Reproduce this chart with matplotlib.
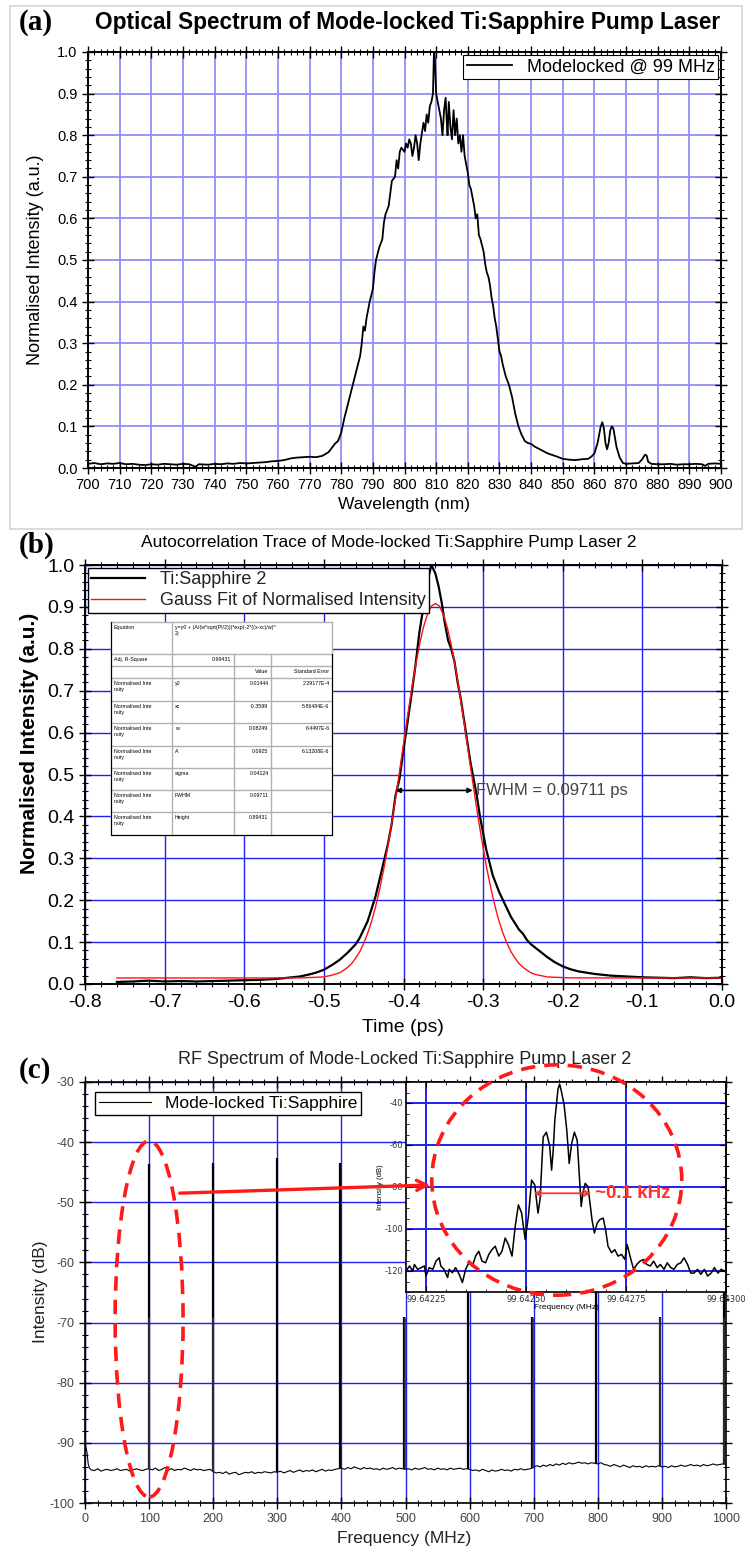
import numpy as np
import matplotlib.pyplot as plt
from matplotlib.patches import Ellipse, Rectangle, FancyArrowPatch
from matplotlib.ticker import MultipleLocator

plt.rcParams['axes.unicode_minus'] = False

W, H = 749, 1548
NARROW = ['Liberation Sans Narrow', 'Liberation Sans', 'DejaVu Sans']
SANS = ['Liberation Sans', 'DejaVu Sans']
SERIF = ['Liberation Serif', 'DejaVu Serif']
GRID_A = '#8f8ff7'
GRID = '#2020f0'

# ==========================================
# DATA
# ==========================================

# (a) optical spectrum
wavelength_nm = [700, 702, 704, 706, 708, 710, 712, 714, 716, 718, 720, 722, 724, 726, 728,
                 730, 732, 734, 735, 738, 740, 742, 744, 746, 748, 750, 752, 754, 756, 758,
                 760, 762, 764, 766, 768, 770, 772, 774, 776, 777, 778, 779, 780, 781, 782,
                 783, 784, 785, 786, 786.5, 787, 787.5, 788, 789, 790, 790.5, 791, 792, 793,
                 793.5, 794, 795, 795.5, 796, 797, 797.5, 798, 798.5, 799, 800, 800.5, 801,
                 801.5, 802, 802.5, 803, 803.5, 804, 804.5, 805, 806, 806.5, 807, 807.5, 808,
                 808.5, 809, 809.3, 809.6, 810, 810.5, 811, 811.5, 812, 812.5, 813, 813.3,
                 813.6, 814, 814.5, 815, 815.5, 816, 816.5, 817, 817.5, 818, 818.5, 819,
                 819.5, 820, 820.5, 821, 821.5, 822, 822.5, 823, 823.5, 824, 825, 825.5, 826,
                 826.5, 827, 827.5, 828, 828.5, 829, 829.5, 830, 830.5, 831, 832, 833, 834,
                 835, 836, 837, 838, 839, 840, 841, 842, 843, 844, 845, 846, 848, 850, 852,
                 854, 856, 858, 859, 860, 861, 862, 862.5, 863, 863.5, 864, 864.5, 865,
                 865.5, 866, 867, 868, 869, 870, 872, 874, 875, 876, 876.5, 877, 878, 880,
                 882, 884, 886, 888, 890, 892, 894, 895, 896, 898, 900]
optical_intensity = [0.010, 0.012, 0.009, 0.011, 0.010, 0.012, 0.009, 0.010, 0.008, 0.007,
                     0.009, 0.008, 0.010, 0.009, 0.008, 0.010, 0.009, 0.003, 0.009, 0.008,
                     0.010, 0.009, 0.011, 0.010, 0.012, 0.011, 0.012, 0.013, 0.014, 0.016,
                     0.017, 0.019, 0.023, 0.025, 0.026, 0.027, 0.026, 0.029, 0.038, 0.048,
                     0.058, 0.065, 0.085, 0.12, 0.15, 0.18, 0.21, 0.24, 0.27, 0.30, 0.34,
                     0.33, 0.36, 0.40, 0.43, 0.47, 0.50, 0.53, 0.55, 0.59, 0.61, 0.63, 0.66,
                     0.69, 0.70, 0.74, 0.72, 0.76, 0.77, 0.76, 0.78, 0.77, 0.79, 0.78, 0.75,
                     0.77, 0.80, 0.78, 0.74, 0.78, 0.83, 0.81, 0.85, 0.83, 0.87, 0.88, 0.90,
                     1.00, 0.98, 0.90, 0.88, 0.86, 0.84, 0.80, 0.86, 0.89, 0.84, 0.80, 0.88,
                     0.82, 0.79, 0.86, 0.80, 0.84, 0.78, 0.80, 0.76, 0.80, 0.75, 0.73, 0.71,
                     0.68, 0.67, 0.65, 0.63, 0.60, 0.61, 0.56, 0.55, 0.52, 0.49, 0.47, 0.46,
                     0.44, 0.41, 0.39, 0.36, 0.34, 0.31, 0.28, 0.27, 0.25, 0.22, 0.20, 0.17,
                     0.13, 0.10, 0.08, 0.065, 0.06, 0.058, 0.052, 0.048, 0.044, 0.040, 0.036,
                     0.033, 0.028, 0.022, 0.020, 0.019, 0.021, 0.022, 0.027, 0.035, 0.06,
                     0.10, 0.11, 0.095, 0.06, 0.045, 0.06, 0.09, 0.10, 0.095, 0.05, 0.025,
                     0.012, 0.010, 0.011, 0.012, 0.020, 0.032, 0.030, 0.015, 0.010, 0.009,
                     0.009, 0.010, 0.008, 0.009, 0.009, 0.010, 0.009, 0.005, 0.010, 0.011,
                     0.010]

# (b) autocorrelation trace and Gaussian fit
delay_ps = [-0.76, -0.74, -0.72, -0.70, -0.68, -0.66, -0.64, -0.62, -0.60, -0.58, -0.56,
            -0.54, -0.53, -0.52, -0.51, -0.50, -0.49, -0.48, -0.47, -0.46, -0.455, -0.45,
            -0.445, -0.44, -0.435, -0.43, -0.425, -0.42, -0.415, -0.41, -0.405, -0.40,
            -0.396, -0.39, -0.385, -0.38, -0.375, -0.37, -0.365, -0.36, -0.356, -0.352,
            -0.348, -0.344, -0.34, -0.336, -0.332, -0.328, -0.324, -0.32, -0.316, -0.312,
            -0.308, -0.304, -0.30, -0.296, -0.292, -0.288, -0.284, -0.28, -0.275, -0.27,
            -0.265, -0.26, -0.255, -0.25, -0.245, -0.24, -0.23, -0.22, -0.21, -0.20, -0.19,
            -0.18, -0.16, -0.14, -0.12, -0.10, -0.08, -0.06, -0.04, -0.02, 0.0]
autocorr_intensity = [0.005, 0.006, 0.008, 0.006, 0.007, 0.006, 0.007, 0.008, 0.009, 0.010,
                      0.012, 0.016, 0.018, 0.022, 0.027, 0.034, 0.045, 0.058, 0.075, 0.095,
                      0.11, 0.13, 0.15, 0.18, 0.21, 0.25, 0.29, 0.33, 0.38, 0.45, 0.49, 0.56,
                      0.61, 0.69, 0.76, 0.84, 0.90, 0.96, 1.00, 0.98, 0.95, 0.91, 0.86, 0.82,
                      0.80, 0.77, 0.72, 0.68, 0.63, 0.58, 0.53, 0.49, 0.45, 0.40, 0.36, 0.32,
                      0.29, 0.26, 0.24, 0.22, 0.20, 0.18, 0.16, 0.145, 0.13, 0.12, 0.105,
                      0.095, 0.08, 0.065, 0.052, 0.042, 0.035, 0.030, 0.024, 0.020, 0.018,
                      0.016, 0.015, 0.014, 0.016, 0.014, 0.015]
fit_delay_ps = [-0.76, -0.60, -0.53, -0.51, -0.50, -0.49, -0.48, -0.475, -0.47, -0.465, -0.46,
                -0.455, -0.45, -0.445, -0.44, -0.435, -0.43, -0.425, -0.42, -0.415, -0.41,
                -0.405, -0.40, -0.395, -0.39, -0.385, -0.38, -0.375, -0.37, -0.365, -0.36,
                -0.355, -0.35, -0.345, -0.34, -0.335, -0.33, -0.325, -0.32, -0.315, -0.31,
                -0.305, -0.30, -0.295, -0.29, -0.285, -0.28, -0.275, -0.27, -0.265, -0.26,
                -0.255, -0.25, -0.245, -0.24, -0.235, -0.23, -0.22, -0.21, -0.19, -0.12, 0.0]
fit_intensity = [0.0144, 0.0144, 0.0146, 0.016, 0.017, 0.021, 0.027, 0.033, 0.040, 0.049,
                 0.062, 0.077, 0.097, 0.121, 0.150, 0.185, 0.226, 0.272, 0.325, 0.382, 0.443,
                 0.507, 0.573, 0.638, 0.701, 0.758, 0.809, 0.851, 0.882, 0.902, 0.908, 0.902,
                 0.882, 0.851, 0.809, 0.758, 0.701, 0.638, 0.573, 0.507, 0.443, 0.382, 0.325,
                 0.272, 0.226, 0.185, 0.150, 0.121, 0.097, 0.077, 0.062, 0.049, 0.040, 0.033,
                 0.027, 0.023, 0.021, 0.017, 0.016, 0.0146, 0.0144, 0.0144]
fwhm_ps = 0.09711
fwhm_from, fwhm_to, fwhm_level = -0.410, -0.313, 0.462

fit_params = ['y0', 'xc', 'w', 'A', 'sigma', 'FWHM', 'Height']
fit_values = ['0.01444', '-0.3599', '0.08249', '0.0925', '0.04124', '0.09711', '0.89431']
fit_errors = ['2.29177E-4', '5.86484E-6', '6.4497E-6', '6.13208E-6', '', '', '']
fit_equation = 'y=y0 + (A/(w*sqrt(PI/2)))*exp(-2*((x-xc)/w)^\n2)'
fit_adj_r2 = '0.99431'

# (c) RF spectrum, main trace
rf_floor_mhz = [1, 3, 5, 7] + list(range(10, 1001, 5))
rf_floor_db = [-90.5, -91.5, -93.5, -94.2,
               -94.5, -94.6, -94.3, -94.7, -94.5, -94.4, -94.6, -94.5, -94.3, -94.6, -94.5,
               -94.4, -94.7, -94.5, -94.3, -94.5, -94.6, -94.4,
               -94.3, -94.5, -94.2, -94.6, -94.4, -94.1, -94.5, -94.3, -94.6, -94.4, -94.5,
               -94.2, -94.4, -94.6, -94.3, -94.5, -94.4, -94.6, -94.5, -94.4,
               -94.8, -95.0, -94.9, -95.1, -94.8, -95.2, -95.0, -94.9, -95.3, -95.1, -94.9,
               -95.0, -94.8, -95.1, -94.9, -95.0, -94.8, -94.9, -95.0, -94.8,
               -94.9, -94.7, -95.0, -94.8, -94.6, -94.9, -94.7, -94.5, -94.8, -94.6, -94.7,
               -94.5, -94.8, -94.6, -94.4, -94.7, -94.5, -94.6, -94.4, -94.3,
               -94.2, -94.4, -94.1, -94.3, -94.0, -94.2, -94.4, -94.1, -94.3, -94.2, -94.4,
               -94.3, -94.5, -94.2, -94.4, -94.3, -94.1, -94.4, -94.2, -94.3,
               -94.4, -94.3, -94.5, -94.2, -94.4, -94.3, -94.1, -94.4, -94.3, -94.5, -94.2,
               -94.4, -94.3, -94.5, -94.2, -94.4, -94.3, -94.2, -94.4, -94.3,
               -94.4, -94.6, -94.5, -94.7, -94.4, -94.6, -94.8, -94.5, -94.7, -94.6, -94.4,
               -94.6, -94.5, -94.7, -94.4, -94.5, -94.3, -94.5, -94.4, -94.3,
               -94.0, -93.8, -94.0, -93.7, -93.9, -93.6, -93.8, -93.5, -93.7, -93.4, -93.6,
               -93.3, -93.5, -93.4, -93.2, -93.4, -93.3, -93.5, -93.3, -93.4,
               -93.5, -93.3, -93.6, -93.7, -93.9, -93.6, -93.8, -94.0, -93.7, -93.9, -94.1,
               -93.8, -94.0, -93.9, -94.1, -93.8, -94.0, -93.9, -94.0, -93.8,
               -94.0, -93.9, -94.1, -93.8, -94.0, -93.9, -93.7, -93.9, -93.8, -93.6, -93.8,
               -93.7, -93.9, -93.6, -93.8, -93.7, -93.5, -93.7, -93.6, -93.5, -93.6]
comb_mhz = [0.6, 99.64, 199.29, 298.93, 398.57, 498.21, 597.86, 697.50, 797.14, 896.78, 996.43]
comb_peak_db = [-53.8, -43.6, -43.4, -42.6, -43.4, -69.0, -45.0, -69.0, -45.0, -69.0, -45.0]
comb_twin_db = [np.nan, -69.0, -69.0, np.nan, np.nan, -69.0, np.nan, -69.0, np.nan, -69.0, -69.0]

# (c) inset: zoom on the 99.64 MHz line (offsets in Hz from 99.64225 MHz)
inset_base_mhz = 99.64225
inset_offset_hz = [-47, -41, -33, -29, -21, -12, -4, 0, 8, 17, 25, 33, 37, 45, 54, 58, 66, 74,
                   83, 91, 99, 107, 116, 124, 132, 140, 149, 157, 165, 173, 182, 190, 198, 206,
                   215, 223, 231, 239, 248, 256, 264, 272, 280, 285, 293, 301, 309, 314, 318,
                   322, 330, 334, 338, 345, 352, 358, 364, 371, 378, 383, 388, 392, 398, 405,
                   409, 415, 421, 428, 434, 443, 449, 455, 464, 472, 480, 489, 497, 503, 510,
                   519, 527, 535, 544, 552, 561, 569, 578, 586, 595, 603, 612, 620, 628, 637,
                   645, 654, 662, 670, 679, 687, 696, 704, 713, 721, 730, 738, 746]
inset_db = [-119.2, -117.6, -120.0, -116.9, -119.2, -118.4, -117.6, -122.4, -118.4, -119.2,
            -115.3, -113.7, -117.6, -119.2, -123.1, -119.2, -120.8, -118.4, -121.6, -125.5,
            -119.2, -116.1, -117.6, -112.9, -110.6, -115.3, -116.1, -112.1, -109.8, -108.2,
            -112.9, -110.6, -104.3, -107.4, -112.9, -98.7, -88.5, -92.4, -105.0, -94.0,
            -76.7, -79.1, -92.4, -86.1, -56.2, -53.9, -60.2, -72.0, -62.5, -48.3, -33.4,
            -31.0, -34.0, -40.5, -53.0, -68.8, -59.4, -53.9, -57.8, -73.5, -89.3, -83.0,
            -78.3, -79.8, -86.1, -95.6, -101.9, -97.2, -95.6, -94.8, -100.3, -108.2, -111.3,
            -109.8, -112.9, -112.1, -114.5, -107.4, -112.9, -119.2, -116.9, -115.3, -114.5,
            -116.9, -117.6, -115.3, -118.4, -116.9, -119.2, -116.1, -118.4, -119.2, -116.9,
            -116.1, -113.7, -116.9, -121.0, -121.0, -119.2, -121.6, -119.2, -122.4, -121.0,
            -118.4, -121.0, -119.2, -120.0]
linewidth_from_hz, linewidth_to_hz, linewidth_level_db = 269, 413, -83

assert len(wavelength_nm) == len(optical_intensity)
assert len(delay_ps) == len(autocorr_intensity)
assert len(fit_delay_ps) == len(fit_intensity)
assert len(rf_floor_mhz) == len(rf_floor_db)
assert len(inset_offset_hz) == len(inset_db)

inset_mhz = inset_base_mhz + np.array(inset_offset_hz) * 1e-6

# ==========================================
# FIGURE
# ==========================================
fig = plt.figure(figsize=(W / 100, H / 100), dpi=100)


def box(x0, y0, x1, y1):
    return [x0 / W, 1 - y1 / H, (x1 - x0) / W, (y1 - y0) / H]


def ftext(x, y, s, **kw):
    fig.text(x / W, 1 - y / H, s, **kw)


def origin_ticks(ax, labelsize, family, color='k', spine=1.4):
    ax.tick_params(which='both', top=True, right=True, direction='inout',
                   labelsize=labelsize, labelcolor=color)
    ax.tick_params(which='major', length=8, width=1)
    ax.tick_params(which='minor', length=4, width=0.8)
    for lab in ax.get_xticklabels() + ax.get_yticklabels():
        lab.set_family(family)
    for sp in ax.spines.values():
        sp.set_linewidth(spine)


# outer frame of panel (a)
fig.add_artist(Rectangle((10 / W, 1 - 529 / H), 732 / W, 523 / H, transform=fig.transFigure,
                         fill=False, edgecolor='#d4d4d4', lw=1.2))

# ---------- (a) ----------
ax_a = fig.add_axes(box(88, 52, 721, 468))
ax_a.plot(wavelength_nm, optical_intensity, color='k', lw=1.3, label='Modelocked @ 99 MHz')
ax_a.set_xlim(700, 900)
ax_a.set_ylim(0, 1.0)
ax_a.xaxis.set_major_locator(MultipleLocator(10))
ax_a.xaxis.set_minor_locator(MultipleLocator(2))
ax_a.yaxis.set_major_locator(MultipleLocator(0.1))
ax_a.yaxis.set_minor_locator(MultipleLocator(0.02))
ax_a.yaxis.set_major_formatter('{x:.1f}')
ax_a.grid(True, which='major', color=GRID_A, lw=1.3)
ax_a.set_axisbelow(True)
origin_ticks(ax_a, 10.5, NARROW)
leg = ax_a.legend(loc='upper right', fancybox=False, edgecolor='k', framealpha=1,
                  borderpad=0.2, handlelength=2.5, borderaxespad=0.15,
                  prop={'family': NARROW, 'size': 13})
leg.get_frame().set_linewidth(0.8)
ftext(408, 22, 'Optical Spectrum of Mode-locked Ti:Sapphire Pump Laser', ha='center',
      va='center', fontsize=16.3, fontweight='bold', family=SANS)
ftext(404, 505, 'Wavelength (nm)', ha='center', va='center', fontsize=12.5, family=NARROW)
ftext(36, 260, 'Normalised Intensity (a.u.)', ha='center', va='center', rotation=90,
      fontsize=13, family=SANS)
ftext(36, 22, '(a)', ha='center', va='center', fontsize=21, fontweight='bold', family=SERIF)

# ---------- (b) ----------
ax_b = fig.add_axes(box(85, 565, 722, 984))
ax_b.plot(delay_ps, autocorr_intensity, color='k', lw=1.6, label='Ti:Sapphire 2')
ax_b.plot(fit_delay_ps, fit_intensity, color='#ff1010', lw=1.0,
          label='Gauss Fit of Normalised Intensity')
ax_b.set_xlim(-0.8, 0.0)
ax_b.set_ylim(0, 1.0)
ax_b.xaxis.set_major_locator(MultipleLocator(0.1))
ax_b.xaxis.set_minor_locator(MultipleLocator(0.02))
ax_b.yaxis.set_major_locator(MultipleLocator(0.1))
ax_b.yaxis.set_minor_locator(MultipleLocator(0.02))
ax_b.xaxis.set_major_formatter('{x:.1f}')
ax_b.yaxis.set_major_formatter('{x:.1f}')
ax_b.grid(True, which='major', color=GRID, lw=1.0)
ax_b.set_axisbelow(True)
origin_ticks(ax_b, 14, NARROW)
leg = ax_b.legend(loc='upper left', fancybox=False, edgecolor='k', framealpha=1,
                  borderpad=0.2, handlelength=3.0, borderaxespad=0.15, labelspacing=0.2,
                  prop={'family': SANS, 'size': 13})
leg.get_frame().set_linewidth(1.0)
for t in leg.get_texts():
    t.set_color('#222222')

ax_b.annotate('', xy=(fwhm_from, fwhm_level), xytext=(fwhm_to, fwhm_level),
              arrowprops=dict(arrowstyle='<|-|>', color='k', lw=1.2, mutation_scale=7,
                              shrinkA=0, shrinkB=0))
ax_b.text(fwhm_to + 0.004, fwhm_level, f'FWHM = {fwhm_ps:.5f} ps', va='center', ha='left',
          fontsize=12, color='#444444', family=SANS)

# fit result table (pixel layout -> axes fraction)
col_px = [111, 172, 234, 271, 332]
row_px = [622, 654, 666, 678, 701, 723, 746, 768, 790, 812, 835]
cx = [(c - 85) / 637 for c in col_px]
ry = [(984 - r) / 419 for r in row_px]
ax_b.add_patch(Rectangle((cx[0], ry[-1]), cx[-1] - cx[0], ry[0] - ry[-1],
                         transform=ax_b.transAxes, facecolor='white', edgecolor='none',
                         zorder=5))
for y in ry:
    ax_b.plot([cx[0], cx[-1]], [y, y], transform=ax_b.transAxes, color='#b0b0b0', lw=1.0,
              zorder=6)
for i, x in enumerate(cx):
    top = ry[0] if i in (0, 1, 4) else ry[1]
    ax_b.plot([x, x], [ry[-1], top], transform=ax_b.transAxes, color='#b0b0b0', lw=1.0,
              zorder=6)
ax_b.plot([cx[0], cx[0], cx[-1], cx[-1]], [ry[0], ry[-1], ry[-1], ry[1]],
          transform=ax_b.transAxes, color='k', lw=0.8, zorder=7)

cells = [['Equation', fit_equation, '', ''],
         ['Adj. R-Square', fit_adj_r2, '', ''],
         ['', '', 'Value', 'Standard Error']]
for p, v, e in zip(fit_params, fit_values, fit_errors):
    cells.append(['Normalised Inte\nnsity', p, v, e])
for r, row in enumerate(cells):
    for c, s in enumerate(row):
        if not s:
            continue
        right = (r == 1 and c == 1) or c >= 2
        x = cx[c + 1] - 0.004 if right else cx[c] + 0.004
        ax_b.text(x, ry[r] - 0.006, s, transform=ax_b.transAxes, ha='right' if right else 'left',
                  va='top', fontsize=3.8, family=SANS, zorder=8, linespacing=1.3)

ftext(389, 543, 'Autocorrelation Trace of Mode-locked Ti:Sapphire Pump Laser 2', ha='center',
      va='center', fontsize=12.5, family=NARROW)
ftext(403, 1028, 'Time (ps)', ha='center', va='center', fontsize=14, family=NARROW)
ftext(30, 743, 'Normalised Intensity (a.u.)', ha='center', va='center', rotation=90,
      fontsize=15, fontweight='bold', family=SANS)
ftext(37, 545, '(b)', ha='center', va='center', fontsize=21, fontweight='bold', family=SERIF)

# ---------- (c) ----------
ax_c = fig.add_axes(box(85, 1082, 726, 1503))
ax_c.plot(rf_floor_mhz, rf_floor_db, color='k', lw=0.8, label='Mode-locked Ti:Sapphire')
floor_at_comb = np.interp(comb_mhz, rf_floor_mhz, rf_floor_db)
ax_c.vlines(comb_mhz, floor_at_comb, comb_peak_db, color='k', lw=1.6)
twin = np.array(comb_twin_db)
has_twin = ~np.isnan(twin)
for dx in (-0.9, 0.9):
    ax_c.vlines(np.array(comb_mhz)[has_twin] + dx, floor_at_comb[has_twin], twin[has_twin],
                color='#333333', lw=0.6)
ax_c.set_xlim(0, 1000)
ax_c.set_ylim(-100, -30)
ax_c.xaxis.set_major_locator(MultipleLocator(100))
ax_c.xaxis.set_minor_locator(MultipleLocator(20))
ax_c.yaxis.set_major_locator(MultipleLocator(10))
ax_c.yaxis.set_minor_locator(MultipleLocator(2))
ax_c.grid(True, which='major', color=GRID, lw=1.0)
ax_c.set_axisbelow(True)
origin_ticks(ax_c, 9, SANS, color='#444444', spine=1.2)
leg = ax_c.legend(loc='upper left', fancybox=False, edgecolor='k', framealpha=1,
                  borderpad=0.2, handlelength=3.0, borderaxespad=0.6,
                  prop={'family': NARROW, 'size': 12.5})
leg.get_frame().set_linewidth(1.0)

ax_in = fig.add_axes(box(406, 1082, 726, 1292))
ax_in.plot(inset_mhz, inset_db, color='k', lw=1.1)
ax_in.set_xlim(99.6422, 99.6430)
ax_in.set_ylim(-130, -30)
ax_in.set_xticks([99.64225, 99.64250, 99.64275, 99.64300])
ax_in.set_xticklabels(['99.64225', '99.64250', '99.64275', '99.64300'])
ax_in.xaxis.set_minor_locator(MultipleLocator(0.00005))
ax_in.yaxis.set_minor_locator(MultipleLocator(5))
ax_in.set_yticks([-40, -60, -80, -100, -120])
ax_in.grid(True, which='major', color=GRID, lw=1.4)
ax_in.set_axisbelow(True)
ax_in.tick_params(which='both', top=True, right=True, direction='in', labelsize=6,
                  pad=2, labelcolor='#333333')
ax_in.tick_params(which='major', length=4)
ax_in.tick_params(which='minor', length=2)
for sp in ax_in.spines.values():
    sp.set_linewidth(1.2)
ax_in.set_xlabel('Frequency (MHz)', fontsize=6, labelpad=0, family=SANS)
ax_in.set_ylabel('Intensity (dB)', fontsize=5.5, labelpad=0, family=SANS)
lw_from = inset_base_mhz + linewidth_from_hz * 1e-6
lw_to = inset_base_mhz + linewidth_to_hz * 1e-6
ax_in.annotate('', xy=(lw_from, linewidth_level_db), xytext=(lw_to, linewidth_level_db),
               arrowprops=dict(arrowstyle='<->', color='#ff3030', lw=1.3, shrinkA=0,
                               shrinkB=0))
ax_in.text(lw_to + 10e-6, linewidth_level_db, '~0.1 kHz', color='#ff3030', fontsize=13.5,
           fontweight='bold', va='center', ha='left', family=SANS)

# dashed red highlights drawn on top of both axes
red = '#ff1a1a'
fig.add_artist(Ellipse((100, -69.4), 106, 59.2, transform=ax_c.transData, fill=False,
                       edgecolor=red, lw=2.6, ls=(0, (4, 2.5)), zorder=10))
fig.add_artist(Ellipse((736, -46.3), 390, 38.3, transform=ax_c.transData, fill=False,
                       edgecolor=red, lw=2.6, ls=(0, (4, 2.5)), zorder=10))
fig.add_artist(FancyArrowPatch((143.5, -48.5), (543, -47.1), transform=ax_c.transData,
                               arrowstyle='->', mutation_scale=18, color=red, lw=2.4,
                               zorder=10))

ftext(405, 1060, 'RF Spectrum of Mode-Locked Ti:Sapphire Pump Laser 2', ha='center',
      va='center', fontsize=13, family=NARROW, color='#222222')
ftext(404, 1539, 'Frequency (MHz)', ha='center', va='center', fontsize=12.5, family=SANS,
      color='#222222')
ftext(40, 1292, 'Intensity (dB)', ha='center', va='center', rotation=90, fontsize=12.5,
      family=SANS, color='#222222')
ftext(35, 1071, '(c)', ha='center', va='center', fontsize=21, fontweight='bold', family=SERIF)

fig.savefig('out.png', dpi=100, facecolor='white')
